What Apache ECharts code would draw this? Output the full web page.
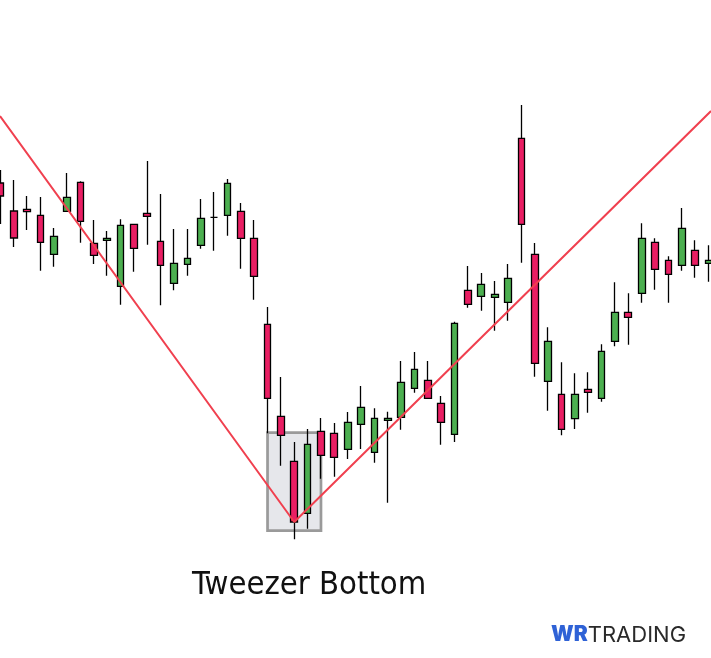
<!DOCTYPE html>
<html>
<head>
<meta charset="utf-8">
<script src="https://cdn.jsdelivr.net/npm/echarts@6/dist/echarts.min.js"></script>
<style>
html,body{margin:0;padding:0;background:#fff;}
#chart{width:711px;height:658px;}
</style>
</head>
<body>
<div id="chart"></div>
<script>
// session index of each candle
var sessions = [];
for (var s = 0; s < 54; s++) sessions.push(s);

var open  = [475,447,448.7,442.7,403.7,446.7,475.7,414.7,417.7,371.7,433.7,444.7,416.7,374.7,393.7,412.7,440.7,442.7,446.7,419.7,333.7,241.7,196.7,144.7,226.7,224.7,208.7,233.7,205.7,237.7,240.7,269.7,277.7,254.7,223.7,367.7,361.7,360.7,355.7,519.7,403.7,276.7,263.7,239.3,268.7,259.7,316.7,345.7,364.7,415.7,397.7,392.7,407.7,394.7];
var close = [462,420,446.3,415.7,421.7,460.7,436.7,402.7,419.7,432.7,409.7,441.7,392.7,394.7,399.7,439.7,440.7,474.7,419.7,381.7,259.7,222.7,136,213.7,202.7,200.7,235.7,250.7,239.7,239.7,275.7,288.7,259.7,235.7,334.7,353.7,373.7,363.7,379.7,433.7,294.7,316.7,228.7,263.7,265.7,306.7,345.7,340.7,419.7,388.7,383.7,429.7,392.7,397.7];
var low   = [434,411,428,387.3,391.3,446.7,415.3,394,382.3,353.3,386.3,413.3,352.7,367.7,382.3,409.3,407.3,422.3,389.3,358.3,224.7,192.3,118.7,129.3,179.3,181.3,199,209,195.3,155.3,228.3,265.3,259.7,213.3,216,350.3,347.3,327.3,337.3,395.3,281.3,247.3,222.7,229,245.3,256.3,311.7,313.3,355.3,368.3,355.3,387.3,380.3,376.3];
var high  = [488,478,462,461,430,485,476.7,438,427,438.7,433.7,497,464,429,429,459,466,479,455,438,351,281,216,229,240,235,246,272,249.7,246.3,297,306,297,262,336.3,392,385,377,394,553,415,330.7,295.7,284.7,285.7,313.7,375.7,364.7,434.7,419.7,401.7,450,417.7,412.7];

// V-shaped trend line (session, price)
var trendX = [-0.02, 22, 53.19];
var trendY = [542, 136, 547];

// highlighted tweezer zone
var zoneX = [20, 24];
var zoneY = [127.3, 225.4];

var titleText = 'Tweezer Bottom';

var candles = sessions.map(function (d, i) { return [d, open[i], close[i], low[i], high[i]]; });
var trend = trendX.map(function (x, i) { return [x, trendY[i]]; });

var chart = echarts.init(document.getElementById('chart'), null, {renderer: 'canvas'});
chart.setOption({
  animation: false,
  backgroundColor: '#ffffff',
  title: [{
    text: titleText,
    left: 192, top: 569, padding: 0,
    textStyle: {fontFamily: "'DejaVu Sans'", fontSize: 32.5, fontWeight: 'condensed', color: '#111111'}
  }, {
    text: '{a|WR}{b|TRADING}',
    left: 551, top: 624, padding: 0,
    textStyle: {
      rich: {
        a: {fontFamily: 'Inter', fontWeight: 900, fontSize: 21, color: '#2f62d6', letterSpacing: -3},
        b: {fontFamily: 'Inter', fontWeight: 400, fontSize: 22, color: '#2a2a2a'}
      }
    }
  }],
  grid: {left: 0, right: 0, top: 0, bottom: 0, containLabel: false},
  xAxis: {type: 'value', min: -0.0225, max: 53.19, show: false, splitLine: {show: false}},
  yAxis: {type: 'value', min: 0, max: 658, show: false, splitLine: {show: false}},
  series: [{
    type: 'candlestick',
    data: candles,
    barWidth: 7.2,
    itemStyle: {
      color: '#4caf50', color0: '#e91e63',
      borderColor: '#000000', borderColor0: '#000000', borderColorDoji: '#000000',
      borderWidth: 1.3
    },
    markArea: {
      silent: true,
      itemStyle: {color: '#e6e7eb', borderColor: '#9a9a9a', borderWidth: 2.7},
      data: [[{coord: [zoneX[0], zoneY[1]]}, {coord: [zoneX[1], zoneY[0]]}]]
    }
  }, {
    type: 'line',
    data: trend,
    showSymbol: false,
    z: 5,
    lineStyle: {color: '#f0404f', width: 2},
    clip: false
  }]
});
</script>
</body>
</html>
